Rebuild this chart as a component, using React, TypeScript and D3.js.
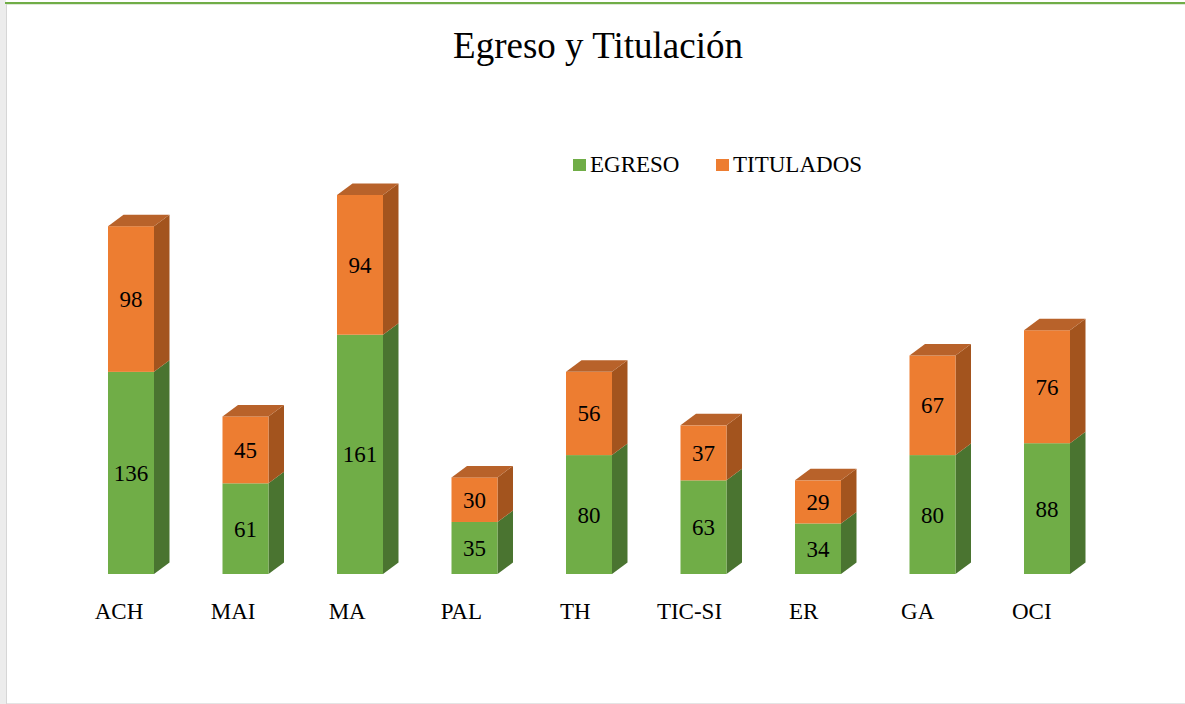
import React, { useRef, useEffect } from 'react';
import * as d3 from 'd3';

// datos del gráfico
const categories = ['ACH', 'MAI', 'MA', 'PAL', 'TH', 'TIC-SI', 'ER', 'GA', 'OCI'];
const egreso = [136, 61, 161, 35, 80, 63, 34, 80, 88];
const titulados = [98, 45, 94, 30, 56, 37, 29, 67, 76];
const seriesNames = ['EGRESO', 'TITULADOS'];

const WIDTH = 1185;
const HEIGHT = 704;
const FONT = "'Liberation Serif', 'Times New Roman', serif";

const App = () => {
    const svgRef = useRef<SVGSVGElement>(null);

    useEffect(() => {
        const svg = d3.select(svgRef.current)
            .attr('width', WIDTH)
            .attr('height', HEIGHT);
        svg.selectAll('*').remove();

        // marco
        svg.append('rect').attr('x', 0).attr('y', 0).attr('width', 6).attr('height', HEIGHT).attr('fill', '#ececec');
        svg.append('line').attr('x1', 6.5).attr('x2', 6.5).attr('y1', 3).attr('y2', HEIGHT)
            .attr('stroke', '#d6d6d6').attr('stroke-width', 1);
        svg.append('line').attr('x1', 5).attr('x2', WIDTH).attr('y1', 3).attr('y2', 3)
            .attr('stroke', '#70AD47').attr('stroke-width', 2);
        svg.append('line').attr('x1', 7).attr('x2', WIDTH).attr('y1', 4.5).attr('y2', 4.5)
            .attr('stroke', '#dfe8d8').attr('stroke-width', 1);
        svg.append('line').attr('x1', 7).attr('x2', WIDTH).attr('y1', 703.5).attr('y2', 703.5)
            .attr('stroke', '#e4e4e4').attr('stroke-width', 1);

        // título
        svg.append('text')
            .attr('x', 598).attr('y', 58)
            .attr('text-anchor', 'middle')
            .attr('font-family', FONT).attr('font-size', 37)
            .attr('fill', '#000')
            .text('Egreso y Titulación');

        const xScale = d3.scalePoint<string>()
            .domain(categories)
            .range([131, 1047]);

        const yScale = d3.scaleLinear()
            .domain([0, 255])
            .range([574, 195]);

        const barW = 46;
        const dx = 15.5;
        const dy = -11.5;

        const colors = {
            green: { front: '#70AD47', side: '#4A7430', top: '#5C8F3A' },
            orange: { front: '#ED7D31', side: '#A3541E', top: '#B8622A' },
        };

        const g = svg.append('g');

        const drawBox = (xc: number, y0: number, y1: number, c: { front: string; side: string; top: string }, withTop: boolean) => {
            const xl = xc - barW / 2;
            const xr = xc + barW / 2;
            // lateral
            g.append('path')
                .attr('d', `M${xr},${y0} L${xr + dx},${y0 + dy} L${xr + dx},${y1 + dy} L${xr},${y1} Z`)
                .attr('fill', c.side);
            // frente
            g.append('rect')
                .attr('x', xl).attr('y', y1)
                .attr('width', barW).attr('height', y0 - y1)
                .attr('fill', c.front);
            if (withTop) {
                g.append('path')
                    .attr('d', `M${xl},${y1} L${xl + dx},${y1 + dy} L${xr + dx},${y1 + dy} L${xr},${y1} Z`)
                    .attr('fill', c.top);
            }
        };

        categories.forEach((cat, i) => {
            const xc = xScale(cat) as number;
            const yBase = yScale(0);
            const yMid = yScale(egreso[i]);
            const yTop = yScale(egreso[i] + titulados[i]);

            drawBox(xc, yBase, yMid, colors.green, false);
            drawBox(xc, yMid, yTop, colors.orange, true);

            g.append('text')
                .attr('x', xc).attr('y', (yBase + yMid) / 2 + 8)
                .attr('text-anchor', 'middle')
                .attr('font-family', FONT).attr('font-size', 23)
                .attr('fill', '#000')
                .text(egreso[i]);

            g.append('text')
                .attr('x', xc).attr('y', (yMid + yTop) / 2 + 8)
                .attr('text-anchor', 'middle')
                .attr('font-family', FONT).attr('font-size', 23)
                .attr('fill', '#000')
                .text(titulados[i]);

            // etiqueta de categoría (desplazada por la perspectiva)
            g.append('text')
                .attr('x', xc - 12 - i * 0.4).attr('y', 619)
                .attr('text-anchor', 'middle')
                .attr('font-family', FONT).attr('font-size', 23)
                .attr('fill', '#000')
                .text(cat);
        });

        // leyenda
        const legendX = [573, 716];
        const legendColors = [colors.green.front, colors.orange.front];
        seriesNames.forEach((name, i) => {
            svg.append('rect')
                .attr('x', legendX[i]).attr('y', 159)
                .attr('width', 13).attr('height', 12)
                .attr('fill', legendColors[i]);
            svg.append('text')
                .attr('x', legendX[i] + 17).attr('y', 172)
                .attr('font-family', FONT).attr('font-size', 23)
                .attr('fill', '#000')
                .text(name);
        });
    }, []);

    return (
        <svg ref={svgRef} style={{ position: 'absolute', left: 0, top: 0, background: '#fff' }}></svg>
    );
};

export default App;
